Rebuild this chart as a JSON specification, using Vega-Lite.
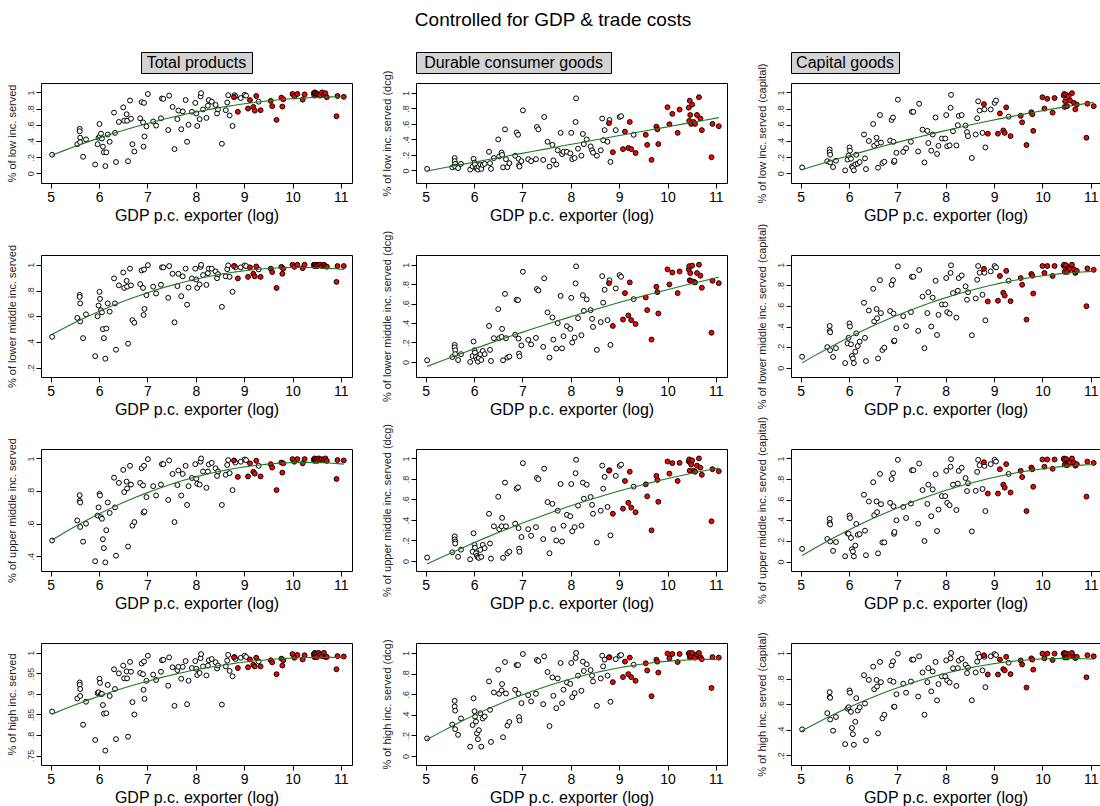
{
  "$schema": "https://vega.github.io/schema/vega-lite/v6.json",
  "background": "white",
  "padding": {"left": 5, "top": 10, "right": 0, "bottom": 0},
  "title": {"text": "Controlled for GDP & trade costs", "fontSize": 19, "fontWeight": "normal", "font": "Liberation Sans", "color": "black", "anchor": "middle", "frame": "bounds", "offset": 22},
  "datasets": {
    "trade": [
      {"x":5.03,"hi":0,"lt":0.23,"ld":0.02,"lc":0.074,"mt":0.44,"md":0.017,"mc":0.107,"ut":0.497,"ud":0.033,"uc":0.124,"ht":0.857,"hd":0.17,"hc":0.403},
      {"x":5.55,"hi":0,"lt":0.36,"ld":0.04,"lc":0.15,"mt":0.587,"md":0.05,"mc":0.2,"ut":0.62,"ud":0.085,"uc":0.22,"ht":0.889,"hd":0.305,"hc":0.53},
      {"x":5.6,"hi":0,"lt":0.55,"ld":0.16,"lc":0.295,"mt":0.766,"md":0.175,"mc":0.405,"ut":0.775,"ud":0.24,"uc":0.417,"ht":0.928,"hd":0.535,"hc":0.694},
      {"x":5.6,"hi":0,"lt":0.52,"ld":0.12,"lc":0.26,"mt":0.75,"md":0.15,"mc":0.357,"ut":0.74,"ud":0.21,"uc":0.375,"ht":0.922,"hd":0.48,"hc":0.655},
      {"x":5.61,"hi":0,"lt":0.44,"ld":0.085,"lc":0.23,"mt":0.7,"md":0.12,"mc":0.344,"ut":0.73,"ud":0.19,"uc":0.36,"ht":0.912,"hd":0.44,"hc":0.65},
      {"x":5.61,"hi":0,"lt":0.385,"ld":0.05,"lc":0.135,"mt":0.56,"md":0.08,"mc":0.17,"ut":0.58,"ud":0.17,"uc":0.195,"ht":0.895,"hd":0.26,"hc":0.48},
      {"x":5.67,"hi":0,"lt":0.205,"ld":0.03,"lc":0.078,"mt":0.43,"md":0.02,"mc":0.104,"ut":0.49,"ud":0.04,"uc":0.104,"ht":0.825,"hd":0.205,"hc":0.393},
      {"x":5.73,"hi":0,"lt":0.42,"ld":0.085,"lc":0.156,"mt":0.615,"md":0.08,"mc":0.19,"ut":0.6,"ud":0.11,"uc":0.19,"ht":0.881,"hd":0.364,"hc":0.5},
      {"x":5.92,"hi":0,"lt":0.11,"ld":0.01,"lc":0.037,"mt":0.29,"md":0,"mc":0.045,"ut":0.37,"ud":0.016,"uc":0.052,"ht":0.788,"hd":0.09,"hc":0.288},
      {"x":5.97,"hi":0,"lt":0.36,"ld":0.05,"lc":0.17,"mt":0.6,"md":0.06,"mc":0.237,"ut":0.65,"ud":0.09,"uc":0.275,"ht":0.902,"hd":0.3,"hc":0.565},
      {"x":5.99,"hi":0,"lt":0.44,"ld":0.15,"lc":0.22,"mt":0.683,"md":0.21,"mc":0.29,"ut":0.7,"ud":0.27,"uc":0.27,"ht":0.904,"hd":0.56,"hc":0.576},
      {"x":6.01,"hi":0,"lt":0.61,"ld":0.1,"lc":0.32,"mt":0.79,"md":0.12,"mc":0.43,"ut":0.783,"ud":0.157,"uc":0.446,"ht":0.937,"hd":0.435,"hc":0.707},
      {"x":6.02,"hi":0,"lt":0.46,"ld":0.077,"lc":0.28,"mt":0.735,"md":0.096,"mc":0.4,"ut":0.773,"ud":0.13,"uc":0.423,"ht":0.927,"hd":0.383,"hc":0.69},
      {"x":6.04,"hi":0,"lt":0.49,"ld":0.03,"lc":0.18,"mt":0.647,"md":0.05,"mc":0.227,"ut":0.64,"ud":0.075,"uc":0.23,"ht":0.9,"hd":0.334,"hc":0.54},
      {"x":6.06,"hi":0,"lt":0.43,"ld":0.034,"lc":0.086,"mt":0.63,"md":0.027,"mc":0.114,"ut":0.63,"ud":0.05,"uc":0.12,"ht":0.9,"hd":0.22,"hc":0.414},
      {"x":6.08,"hi":0,"lt":0.33,"ld":0.01,"lc":0.07,"mt":0.5,"md":0.003,"mc":0.09,"ut":0.505,"ud":0.036,"uc":0.098,"ht":0.873,"hd":0.162,"hc":0.366},
      {"x":6.1,"hi":0,"lt":0.26,"ld":0.05,"lc":0.037,"mt":0.43,"md":0.04,"mc":0.045,"ut":0.45,"ud":0.03,"uc":0.05,"ht":0.852,"hd":0.25,"hc":0.283},
      {"x":6.13,"hi":0,"lt":0.09,"ld":0.077,"lc":0.11,"mt":0.27,"md":0.08,"mc":0.156,"ut":0.363,"ud":0.108,"uc":0.156,"ht":0.762,"hd":0.415,"hc":0.463},
      {"x":6.15,"hi":0,"lt":0.26,"ld":0.02,"lc":0.23,"mt":0.505,"md":0.02,"mc":0.334,"ut":0.56,"ud":0.04,"uc":0.365,"ht":0.853,"hd":0.09,"hc":0.647},
      {"x":6.18,"hi":0,"lt":0.48,"ld":0.07,"lc":0.12,"mt":0.7,"md":0.113,"mc":0.21,"ut":0.73,"ud":0.157,"uc":0.26,"ht":0.922,"hd":0.364,"hc":0.55},
      {"x":6.22,"hi":0,"lt":0.39,"ld":0.085,"lc":0.14,"mt":0.636,"md":0.08,"mc":0.253,"ut":0.666,"ud":0.125,"uc":0.267,"ht":0.895,"hd":0.383,"hc":0.576},
      {"x":6.31,"hi":0,"lt":0.75,"ld":0.24,"lc":0.48,"mt":0.894,"md":0.37,"mc":0.63,"ut":0.882,"ud":0.46,"uc":0.648,"ht":0.96,"hd":0.724,"hc":0.827},
      {"x":6.33,"hi":0,"lt":0.5,"ld":0.094,"lc":0.185,"mt":0.7,"md":0.124,"mc":0.29,"ut":0.7,"ud":0.17,"uc":0.3,"ht":0.912,"hd":0.448,"hc":0.605},
      {"x":6.35,"hi":0,"lt":0.14,"ld":0.02,"lc":0.053,"mt":0.34,"md":0.01,"mc":0.065,"ut":0.404,"ud":0.023,"uc":0.062,"ht":0.79,"hd":0.136,"hc":0.317},
      {"x":6.41,"hi":0,"lt":0.635,"ld":0.16,"lc":0.4,"mt":0.84,"md":0.244,"mc":0.555,"ut":0.85,"ud":0.338,"uc":0.583,"ht":0.95,"hd":0.617,"hc":0.79},
      {"x":6.5,"hi":0,"lt":0.815,"ld":0.4,"lc":0.61,"mt":0.94,"md":0.543,"mc":0.766,"ut":0.93,"ud":0.626,"uc":0.77,"ht":0.969,"hd":0.838,"hc":0.893},
      {"x":6.52,"hi":0,"lt":0.65,"ld":0.18,"lc":0.34,"mt":0.82,"md":0.244,"mc":0.45,"ut":0.794,"ud":0.31,"uc":0.45,"ht":0.938,"hd":0.604,"hc":0.717},
      {"x":6.57,"hi":0,"lt":0.73,"ld":0.23,"lc":0.44,"mt":0.875,"md":0.258,"mc":0.57,"ut":0.858,"ud":0.338,"uc":0.583,"ht":0.955,"hd":0.636,"hc":0.79},
      {"x":6.58,"hi":0,"lt":0.65,"ld":0.2,"lc":0.37,"mt":0.83,"md":0.34,"mc":0.48,"ut":0.816,"ud":0.42,"uc":0.48,"ht":0.938,"hd":0.698,"hc":0.738},
      {"x":6.6,"hi":0,"lt":0.15,"ld":0.04,"lc":0.07,"mt":0.387,"md":0.017,"mc":0.09,"ut":0.46,"ud":0.03,"uc":0.08,"ht":0.796,"hd":0.182,"hc":0.372},
      {"x":6.64,"hi":0,"lt":0.9,"ld":0.53,"lc":0.72,"mt":0.97,"md":0.7,"mc":0.85,"ut":0.955,"ud":0.764,"uc":0.85,"ht":0.978,"hd":0.912,"hc":0.93},
      {"x":6.66,"hi":0,"lt":0.675,"ld":0.145,"lc":0.38,"mt":0.84,"md":0.244,"mc":0.53,"ut":0.84,"ud":0.338,"uc":0.557,"ht":0.954,"hd":0.607,"hc":0.772},
      {"x":6.69,"hi":0,"lt":0.36,"ld":0.043,"lc":0.127,"mt":0.57,"md":0.045,"mc":0.172,"ut":0.588,"ud":0.075,"uc":0.186,"ht":0.88,"hd":0.295,"hc":0.49},
      {"x":6.73,"hi":0,"lt":0.27,"ld":0.094,"lc":0.143,"mt":0.55,"md":0.055,"mc":0.195,"ut":0.61,"ud":0.09,"uc":0.186,"ht":0.85,"hd":0.33,"hc":0.518},
      {"x":6.85,"hi":0,"lt":0.68,"ld":0.19,"lc":0.405,"mt":0.85,"md":0.28,"mc":0.55,"ut":0.85,"ud":0.364,"uc":0.57,"ht":0.951,"hd":0.643,"hc":0.785},
      {"x":6.88,"hi":0,"lt":0.88,"ld":0.49,"lc":0.66,"mt":0.956,"md":0.64,"mc":0.805,"ut":0.94,"ud":0.705,"uc":0.8,"ht":0.974,"hd":0.883,"hc":0.903},
      {"x":6.91,"hi":0,"lt":0.63,"ld":0.46,"lc":0.69,"mt":0.82,"md":0.636,"mc":0.85,"ut":0.835,"ud":0.718,"uc":0.857,"ht":0.948,"hd":0.883,"hc":0.935},
      {"x":6.92,"hi":0,"lt":0.33,"ld":0.15,"lc":0.39,"mt":0.61,"md":0.24,"mc":0.526,"ut":0.668,"ud":0.32,"uc":0.537,"ht":0.91,"hd":0.604,"hc":0.775},
      {"x":6.93,"hi":0,"lt":0.87,"ld":0.068,"lc":0.14,"mt":0.963,"md":0.086,"mc":0.256,"ut":0.955,"ud":0.12,"uc":0.27,"ht":0.979,"hd":0.377,"hc":0.58},
      {"x":6.94,"hi":0,"lt":0.455,"ld":0.05,"lc":0.156,"mt":0.657,"md":0.058,"mc":0.263,"ut":0.675,"ud":0.09,"uc":0.287,"ht":0.888,"hd":0.344,"hc":0.58},
      {"x":6.98,"hi":0,"lt":0.58,"ld":0.12,"lc":0.254,"mt":0.764,"md":0.17,"mc":0.383,"ut":0.763,"ud":0.233,"uc":0.4,"ht":0.932,"hd":0.513,"hc":0.678},
      {"x":7.01,"hi":0,"lt":0.98,"ld":0.775,"lc":0.91,"mt":0.997,"md":0.928,"mc":0.984,"ut":0.996,"ud":0.954,"uc":0.987,"ht":0.993,"hd":0.99,"hc":0.995},
      {"x":7.12,"hi":0,"lt":0.64,"ld":0.145,"lc":0.266,"mt":0.83,"md":0.227,"mc":0.5,"ut":0.83,"ud":0.31,"uc":0.53,"ht":0.947,"hd":0.59,"hc":0.76},
      {"x":7.18,"hi":0,"lt":0.59,"ld":0.12,"lc":0.31,"mt":0.777,"md":0.18,"mc":0.403,"ut":0.773,"ud":0.246,"uc":0.423,"ht":0.934,"hd":0.53,"hc":0.69},
      {"x":7.28,"hi":0,"lt":0.68,"ld":0.145,"lc":0.39,"mt":0.845,"md":0.247,"mc":0.54,"ut":0.84,"ud":0.33,"uc":0.563,"ht":0.954,"hd":0.604,"hc":0.777},
      {"x":7.3,"hi":0,"lt":0.925,"ld":0.56,"lc":0.76,"mt":0.98,"md":0.75,"mc":0.883,"ut":0.965,"ud":0.81,"uc":0.886,"ht":0.982,"hd":0.932,"hc":0.948},
      {"x":7.33,"hi":0,"lt":0.92,"ld":0.53,"lc":0.76,"mt":0.98,"md":0.735,"mc":0.883,"ut":0.965,"ud":0.797,"uc":0.886,"ht":0.983,"hd":0.922,"hc":0.948},
      {"x":7.43,"hi":0,"lt":0.535,"ld":0.136,"lc":0.27,"mt":0.743,"md":0.155,"mc":0.357,"ut":0.746,"ud":0.213,"uc":0.368,"ht":0.92,"hd":0.503,"hc":0.66},
      {"x":7.45,"hi":0,"lt":0.96,"ld":0.69,"lc":0.86,"mt":0.99,"md":0.86,"mc":0.948,"ut":0.988,"ud":0.9,"uc":0.951,"ht":0.989,"hd":0.967,"hc":0.974},
      {"x":7.52,"hi":0,"lt":0.82,"ld":0.37,"lc":0.54,"mt":0.93,"md":0.51,"mc":0.69,"ut":0.905,"ud":0.574,"uc":0.694,"ht":0.965,"hd":0.815,"hc":0.848},
      {"x":7.56,"hi":0,"lt":0.3,"ld":0.05,"lc":0.135,"mt":0.553,"md":0.045,"mc":0.19,"ut":0.61,"ud":0.075,"uc":0.2,"ht":0.871,"hd":0.29,"hc":0.518},
      {"x":7.62,"hi":0,"lt":0.67,"ld":0.33,"lc":0.525,"mt":0.834,"md":0.457,"mc":0.53,"ut":0.837,"ud":0.557,"uc":0.56,"ht":0.958,"hd":0.763,"hc":0.772},
      {"x":7.64,"hi":0,"lt":0.775,"ld":0.13,"lc":0.375,"mt":0.93,"md":0.23,"mc":0.733,"ut":0.926,"ud":0.31,"uc":0.746,"ht":0.966,"hd":0.584,"hc":0.882},
      {"x":7.7,"hi":0,"lt":0.545,"ld":0.077,"lc":0.28,"mt":0.756,"md":0.137,"mc":0.4,"ut":0.773,"ud":0.2,"uc":0.44,"ht":0.937,"hd":0.464,"hc":0.7},
      {"x":7.73,"hi":0,"lt":0.765,"ld":0.26,"lc":0.48,"mt":0.91,"md":0.4,"mc":0.68,"ut":0.905,"ud":0.49,"uc":0.7,"ht":0.966,"hd":0.753,"hc":0.856},
      {"x":7.79,"hi":0,"lt":0.905,"ld":0.485,"lc":0.69,"mt":0.97,"md":0.68,"mc":0.844,"ut":0.955,"ud":0.75,"uc":0.847,"ht":0.98,"hd":0.903,"hc":0.93},
      {"x":7.82,"hi":0,"lt":0.39,"ld":0.21,"lc":0.24,"mt":0.69,"md":0.14,"mc":0.318,"ut":0.715,"ud":0.19,"uc":0.296,"ht":0.875,"hd":0.513,"hc":0.63},
      {"x":7.85,"hi":0,"lt":0.6,"ld":0.24,"lc":0.34,"mt":0.823,"md":0.265,"mc":0.513,"ut":0.83,"ud":0.344,"uc":0.505,"ht":0.932,"hd":0.643,"hc":0.757},
      {"x":7.92,"hi":0,"lt":0.76,"ld":0.24,"lc":0.43,"mt":0.894,"md":0.368,"mc":0.614,"ut":0.88,"ud":0.45,"uc":0.635,"ht":0.963,"hd":0.714,"hc":0.817},
      {"x":7.99,"hi":0,"lt":0.87,"ld":0.22,"lc":0.43,"mt":0.97,"md":0.34,"mc":0.614,"ut":0.965,"ud":0.436,"uc":0.635,"ht":0.98,"hd":0.7,"hc":0.817},
      {"x":8.01,"hi":0,"lt":0.74,"ld":0.485,"lc":0.72,"mt":0.886,"md":0.66,"mc":0.87,"ut":0.876,"ud":0.75,"uc":0.88,"ht":0.961,"hd":0.903,"hc":0.942},
      {"x":8.03,"hi":0,"lt":0.585,"ld":0.145,"lc":0.335,"mt":0.82,"md":0.2,"mc":0.54,"ut":0.845,"ud":0.29,"uc":0.57,"ht":0.946,"hd":0.571,"hc":0.785},
      {"x":8.08,"hi":0,"lt":0.67,"ld":0.16,"lc":0.345,"mt":0.847,"md":0.25,"mc":0.526,"ut":0.84,"ud":0.33,"uc":0.547,"ht":0.951,"hd":0.61,"hc":0.77},
      {"x":8.1,"hi":0,"lt":0.95,"ld":0.625,"lc":0.81,"mt":0.984,"md":0.808,"mc":0.92,"ut":0.98,"ud":0.856,"uc":0.92,"ht":0.987,"hd":0.951,"hc":0.958},
      {"x":8.11,"hi":0,"lt":0.99,"ld":0.93,"lc":0.97,"mt":1.0,"md":0.983,"mc":0.994,"ut":1.0,"ud":0.987,"uc":0.993,"ht":0.997,"hd":1.0,"hc":1.0},
      {"x":8.15,"hi":0,"lt":0.79,"ld":0.28,"lc":0.52,"mt":0.92,"md":0.45,"mc":0.724,"ut":0.92,"ud":0.54,"uc":0.746,"ht":0.967,"hd":0.78,"hc":0.88},
      {"x":8.22,"hi":0,"lt":0.685,"ld":0.19,"lc":0.345,"mt":0.844,"md":0.275,"mc":0.487,"ut":0.82,"ud":0.344,"uc":0.5,"ht":0.945,"hd":0.633,"hc":0.743},
      {"x":8.25,"hi":0,"lt":0.835,"ld":0.47,"lc":0.595,"mt":0.935,"md":0.687,"mc":0.747,"ut":0.92,"ud":0.764,"uc":0.756,"ht":0.969,"hd":0.916,"hc":0.882},
      {"x":8.27,"hi":0,"lt":0.905,"ld":0.34,"lc":0.71,"mt":0.97,"md":0.526,"mc":0.87,"ut":0.963,"ud":0.607,"uc":0.88,"ht":0.982,"hd":0.825,"hc":0.94},
      {"x":8.33,"hi":0,"lt":0.885,"ld":0.4,"lc":0.72,"mt":0.97,"md":0.643,"mc":0.896,"ut":0.973,"ud":0.744,"uc":0.91,"ht":0.985,"hd":0.89,"hc":0.955},
      {"x":8.41,"hi":0,"lt":0.845,"ld":0.31,"lc":0.59,"mt":0.948,"md":0.533,"mc":0.79,"ut":0.94,"ud":0.623,"uc":0.81,"ht":0.977,"hd":0.834,"hc":0.908},
      {"x":8.44,"hi":0,"lt":0.74,"ld":0.26,"lc":0.51,"mt":0.896,"md":0.443,"mc":0.66,"ut":0.893,"ud":0.547,"uc":0.684,"ht":0.962,"hd":0.78,"hc":0.843},
      {"x":8.46,"hi":0,"lt":0.79,"ld":0.23,"lc":0.46,"mt":0.927,"md":0.36,"mc":0.733,"ut":0.92,"ud":0.46,"uc":0.76,"ht":0.969,"hd":0.724,"hc":0.885},
      {"x":8.54,"hi":0,"lt":0.365,"ld":0.19,"lc":0.19,"mt":0.673,"md":0.124,"mc":0.315,"ut":0.715,"ud":0.18,"uc":0.293,"ht":0.874,"hd":0.487,"hc":0.63},
      {"x":8.62,"hi":0,"lt":0.78,"ld":0.26,"lc":0.48,"mt":0.91,"md":0.41,"mc":0.672,"ut":0.9,"ud":0.49,"uc":0.687,"ht":0.967,"hd":0.753,"hc":0.848},
      {"x":8.65,"hi":0,"lt":0.875,"ld":0.67,"lc":0.68,"mt":0.966,"md":0.883,"mc":0.854,"ut":0.96,"ud":0.93,"uc":0.87,"ht":0.981,"hd":0.974,"hc":0.932},
      {"x":8.67,"hi":0,"lt":0.965,"ld":0.39,"lc":0.89,"mt":0.995,"md":0.61,"mc":0.987,"ut":0.99,"ud":0.705,"uc":0.987,"ht":0.995,"hd":0.87,"hc":0.995},
      {"x":8.7,"hi":0,"lt":0.715,"ld":0.52,"lc":0.775,"mt":0.906,"md":0.742,"mc":0.922,"ut":0.91,"ud":0.82,"uc":0.935,"ht":0.956,"hd":0.935,"hc":0.968},
      {"x":8.76,"hi":0,"lt":0.585,"ld":0.37,"lc":0.5,"mt":0.79,"md":0.43,"mc":0.708,"ut":0.806,"ud":0.527,"uc":0.704,"ht":0.943,"hd":0.78,"hc":0.864},
      {"x":8.8,"hi":0,"lt":0.965,"ld":0.65,"lc":0.79,"mt":0.99,"md":0.84,"mc":0.922,"ut":0.983,"ud":0.885,"uc":0.928,"ht":0.99,"hd":0.958,"hc":0.97},
      {"x":8.82,"hi":0,"lt":0.95,"ld":0.11,"lc":0.32,"mt":0.98,"md":0.175,"mc":0.46,"ut":0.975,"ud":0.25,"uc":0.49,"ht":0.985,"hd":0.526,"hc":0.733},
      {"x":8.93,"hi":0,"lt":0.93,"ld":0.52,"lc":0.79,"mt":0.98,"md":0.756,"mc":0.935,"ut":0.98,"ud":0.83,"uc":0.945,"ht":0.988,"hd":0.94,"hc":0.974},
      {"x":9.01,"hi":0,"lt":0.97,"ld":0.69,"lc":0.87,"mt":0.995,"md":0.893,"mc":0.987,"ut":0.994,"ud":0.928,"uc":0.987,"ht":0.993,"hd":0.974,"hc":0.992},
      {"x":9.04,"hi":0,"lt":0.96,"ld":0.7,"lc":0.9,"mt":0.99,"md":0.876,"mc":0.974,"ut":0.99,"ud":0.94,"uc":0.97,"ht":0.99,"hd":0.98,"hc":0.984},
      {"x":9.3,"hi":0,"lt":0.885,"ld":0.46,"lc":0.7,"mt":0.964,"md":0.646,"mc":0.844,"ut":0.955,"ud":0.725,"uc":0.85,"ht":0.979,"hd":0.886,"hc":0.924},
      {"x":8.79,"hi":1,"lt":0.94,"ld":0.61,"lc":0.855,"mt":0.99,"md":0.81,"mc":0.96,"ut":0.988,"ud":0.88,"uc":0.964,"ht":0.989,"hd":0.958,"hc":0.982},
      {"x":8.87,"hi":1,"lt":0.76,"ld":0.235,"lc":0.49,"mt":0.894,"md":0.37,"mc":0.643,"ut":0.887,"ud":0.46,"uc":0.66,"ht":0.963,"hd":0.717,"hc":0.832},
      {"x":9.08,"hi":1,"lt":0.8,"ld":0.275,"lc":0.49,"mt":0.906,"md":0.436,"mc":0.65,"ut":0.89,"ud":0.51,"uc":0.66,"ht":0.965,"hd":0.766,"hc":0.832},
      {"x":9.12,"hi":1,"lt":0.905,"ld":0.5,"lc":0.74,"mt":0.98,"md":0.708,"mc":0.89,"ut":0.97,"ud":0.78,"uc":0.896,"ht":0.984,"hd":0.916,"hc":0.948},
      {"x":9.19,"hi":1,"lt":0.82,"ld":0.29,"lc":0.53,"mt":0.93,"md":0.478,"mc":0.727,"ut":0.918,"ud":0.567,"uc":0.746,"ht":0.971,"hd":0.795,"hc":0.874},
      {"x":9.22,"hi":1,"lt":0.775,"ld":0.625,"lc":0.5,"mt":0.91,"md":0.818,"mc":0.7,"ut":0.907,"ud":0.87,"uc":0.717,"ht":0.967,"hd":0.955,"hc":0.864},
      {"x":9.25,"hi":1,"lt":0.955,"ld":0.275,"lc":0.815,"mt":0.987,"md":0.43,"mc":0.94,"ut":0.986,"ud":0.52,"uc":0.945,"ht":0.988,"hd":0.766,"hc":0.97},
      {"x":9.34,"hi":1,"lt":0.78,"ld":0.225,"lc":0.46,"mt":0.906,"md":0.39,"mc":0.646,"ut":0.89,"ud":0.475,"uc":0.67,"ht":0.967,"hd":0.73,"hc":0.835},
      {"x":9.55,"hi":1,"lt":0.895,"ld":0.46,"lc":0.71,"mt":0.97,"md":0.663,"mc":0.87,"ut":0.965,"ud":0.747,"uc":0.88,"ht":0.982,"hd":0.9,"hc":0.942},
      {"x":9.58,"hi":1,"lt":0.83,"ld":0.33,"lc":0.63,"mt":0.943,"md":0.533,"mc":0.805,"ut":0.944,"ud":0.63,"uc":0.82,"ht":0.977,"hd":0.83,"hc":0.91},
      {"x":9.67,"hi":1,"lt":0.66,"ld":0.136,"lc":0.35,"mt":0.82,"md":0.23,"mc":0.467,"ut":0.806,"ud":0.298,"uc":0.49,"ht":0.948,"hd":0.58,"hc":0.73},
      {"x":9.77,"hi":1,"lt":0.935,"ld":0.565,"lc":0.755,"mt":0.984,"md":0.773,"mc":0.91,"ut":0.975,"ud":0.83,"uc":0.912,"ht":0.986,"hd":0.935,"hc":0.958},
      {"x":9.79,"hi":1,"lt":0.825,"ld":0.53,"lc":0.73,"mt":0.93,"md":0.718,"mc":0.893,"ut":0.913,"ud":0.79,"uc":0.896,"ht":0.969,"hd":0.916,"hc":0.948},
      {"x":9.81,"hi":1,"lt":0.915,"ld":0.34,"lc":0.525,"mt":0.97,"md":0.498,"mc":0.72,"ut":0.97,"ud":0.577,"uc":0.726,"ht":0.982,"hd":0.81,"hc":0.87},
      {"x":10.0,"hi":1,"lt":0.98,"ld":0.815,"lc":0.94,"mt":1.0,"md":0.952,"mc":0.987,"ut":0.996,"ud":0.97,"uc":0.99,"ht":0.997,"hd":0.994,"hc":0.995},
      {"x":10.04,"hi":1,"lt":0.95,"ld":0.595,"lc":0.8,"mt":0.984,"md":0.797,"mc":0.92,"ut":0.98,"ud":0.852,"uc":0.92,"ht":0.988,"hd":0.948,"hc":0.958},
      {"x":10.1,"hi":1,"lt":0.98,"ld":0.73,"lc":0.92,"mt":1.0,"md":0.92,"mc":0.987,"ut":0.996,"ud":0.954,"uc":0.99,"ht":0.995,"hd":0.99,"hc":0.995},
      {"x":10.21,"hi":1,"lt":0.91,"ld":0.485,"lc":0.75,"mt":0.974,"md":0.708,"mc":0.89,"ut":0.97,"ud":0.78,"uc":0.9,"ht":0.984,"hd":0.912,"hc":0.945},
      {"x":10.25,"hi":1,"lt":0.975,"ld":0.785,"lc":0.93,"mt":1.0,"md":0.93,"mc":0.987,"ut":0.996,"ud":0.957,"uc":0.99,"ht":0.994,"hd":0.99,"hc":0.995},
      {"x":10.44,"hi":1,"lt":0.99,"ld":0.81,"lc":0.96,"mt":1.0,"md":0.952,"mc":0.99,"ut":0.995,"ud":0.97,"uc":0.995,"ht":0.997,"hd":0.995,"hc":0.995},
      {"x":10.45,"hi":1,"lt":0.96,"ld":0.64,"lc":0.98,"mt":0.99,"md":0.986,"mc":1.0,"ut":0.985,"ud":0.99,"uc":1.0,"ht":0.99,"hd":1.0,"hc":1.0},
      {"x":10.46,"hi":1,"lt":1.0,"ld":0.9,"lc":0.82,"mt":1.0,"md":0.84,"mc":0.93,"ut":1.0,"ud":0.88,"uc":0.94,"ht":1.0,"hd":0.96,"hc":0.965},
      {"x":10.47,"hi":1,"lt":0.98,"ld":0.715,"lc":0.89,"mt":0.99,"md":0.914,"mc":0.974,"ut":0.99,"ud":0.96,"uc":0.98,"ht":0.99,"hd":0.98,"hc":0.985},
      {"x":10.49,"hi":1,"lt":0.99,"ld":0.6,"lc":0.97,"mt":1.0,"md":0.83,"mc":0.994,"ut":0.995,"ud":0.94,"uc":0.995,"ht":0.998,"hd":0.965,"hc":0.995},
      {"x":10.51,"hi":1,"lt":0.98,"ld":0.85,"lc":0.83,"mt":0.99,"md":0.99,"mc":0.93,"ut":0.985,"ud":0.98,"uc":0.935,"ht":0.99,"hd":1.0,"hc":0.965},
      {"x":10.54,"hi":1,"lt":0.97,"ld":0.625,"lc":0.95,"mt":1.0,"md":0.825,"mc":0.97,"ut":1.0,"ud":0.88,"uc":0.975,"ht":1.0,"hd":0.96,"hc":0.99},
      {"x":10.57,"hi":1,"lt":0.96,"ld":0.6,"lc":0.9,"mt":1.0,"md":0.818,"mc":0.958,"ut":0.99,"ud":0.87,"uc":0.96,"ht":0.995,"hd":0.955,"hc":0.975},
      {"x":10.61,"hi":1,"lt":1.0,"ld":0.715,"lc":0.99,"mt":0.99,"md":0.914,"mc":1.0,"ut":0.995,"ud":0.93,"uc":1.0,"ht":0.992,"hd":0.985,"hc":1.0},
      {"x":10.65,"hi":1,"lt":0.97,"ld":0.945,"lc":0.87,"mt":1.0,"md":1.0,"mc":0.955,"ut":0.99,"ud":1.0,"uc":0.96,"ht":1.0,"hd":1.0,"hc":0.97},
      {"x":10.68,"hi":1,"lt":0.99,"ld":0.67,"lc":0.79,"mt":0.99,"md":0.887,"mc":0.92,"ut":1.0,"ud":0.91,"uc":0.93,"ht":0.99,"hd":0.96,"hc":0.96},
      {"x":10.71,"hi":1,"lt":0.94,"ld":0.52,"lc":0.85,"mt":0.985,"md":0.763,"mc":0.94,"ut":0.985,"ud":0.84,"uc":0.945,"ht":0.99,"hd":0.94,"hc":0.97},
      {"x":10.91,"hi":1,"lt":0.705,"ld":0.17,"lc":0.44,"mt":0.867,"md":0.3,"mc":0.597,"ut":0.874,"ud":0.387,"uc":0.63,"ht":0.96,"hd":0.66,"hc":0.81},
      {"x":10.93,"hi":1,"lt":0.955,"ld":0.6,"lc":0.86,"mt":0.99,"md":0.835,"mc":0.964,"ut":0.99,"ud":0.895,"uc":0.97,"ht":0.992,"hd":0.96,"hc":0.982},
      {"x":11.06,"hi":1,"lt":0.945,"ld":0.57,"lc":0.83,"mt":0.99,"md":0.81,"mc":0.95,"ut":0.988,"ud":0.875,"uc":0.957,"ht":0.991,"hd":0.955,"hc":0.974}
    ]
  },
  "columns": 3,
  "spacing": {"row": 10, "column": 64},
  "bounds": "flush",
  "align": "each",
  "center": true,
  "concat": [
    {"width": 111, "height": 21, "data": {"values": [{"t": "Total products"}]}, "mark": {"type": "text", "fontSize": 16, "font": "Liberation Sans", "color": "black"}, "encoding": {"text": {"field": "t"}}, "view": {"fill": "#d3d3d3", "stroke": "black", "strokeWidth": 1}},
    {"width": 195, "height": 21, "data": {"values": [{"t": "Durable consumer goods"}]}, "mark": {"type": "text", "fontSize": 16, "font": "Liberation Sans", "color": "black"}, "encoding": {"text": {"field": "t"}}, "view": {"fill": "#d3d3d3", "stroke": "black", "strokeWidth": 1}},
    {"width": 108, "height": 21, "data": {"values": [{"t": "Capital goods"}]}, "mark": {"type": "text", "fontSize": 16, "font": "Liberation Sans", "color": "black"}, "encoding": {"text": {"field": "t"}}, "view": {"fill": "#d3d3d3", "stroke": "black", "strokeWidth": 1}},

    {"width": 311, "height": 100, "data": {"name": "trade"},
     "encoding": {"x": {"field": "x", "type": "quantitative", "title": "GDP p.c. exporter (log)", "scale": {"domain": [4.8, 11.23], "nice": false, "zero": false}, "axis": {"values": [5, 6, 7, 8, 9, 10, 11]}},
                  "y": {"field": "lt", "type": "quantitative", "title": "% of low inc. served", "scale": {"domain": [-0.119, 1.116], "nice": false, "zero": false}, "axis": {"values": [0, 0.2, 0.4, 0.6, 0.8, 1]}}},
     "layer": [
       {"mark": {"type": "circle", "size": 24, "opacity": 1, "stroke": "black", "strokeWidth": 1}, "encoding": {"fill": {"field": "hi", "type": "nominal", "scale": {"domain": [0, 1], "range": ["white", "#ff0000"]}, "legend": null}}},
       {"transform": [{"regression": "lt", "on": "x", "method": "poly", "order": 2}], "mark": {"type": "line", "color": "#1d7a1d", "strokeWidth": 1.1}, "encoding": {}}
     ]},
    {"width": 311, "height": 100, "data": {"name": "trade"},
     "encoding": {"x": {"field": "x", "type": "quantitative", "title": "GDP p.c. exporter (log)", "scale": {"domain": [4.8, 11.23], "nice": false, "zero": false}, "axis": {"values": [5, 6, 7, 8, 9, 10, 11]}},
                  "y": {"field": "ld", "type": "quantitative", "title": "% of low inc. served (dcg)", "scale": {"domain": [-0.162, 1.128], "nice": false, "zero": false}, "axis": {"values": [0, 0.2, 0.4, 0.6, 0.8, 1]}}},
     "layer": [
       {"mark": {"type": "circle", "size": 24, "opacity": 1, "stroke": "black", "strokeWidth": 1}, "encoding": {"fill": {"field": "hi", "type": "nominal", "scale": {"domain": [0, 1], "range": ["white", "#ff0000"]}, "legend": null}}},
       {"transform": [{"regression": "ld", "on": "x", "method": "poly", "order": 2}], "mark": {"type": "line", "color": "#1d7a1d", "strokeWidth": 1.1}, "encoding": {}}
     ]},
    {"width": 309, "height": 100, "data": {"name": "trade"},
     "encoding": {"x": {"field": "x", "type": "quantitative", "title": "GDP p.c. exporter (log)", "scale": {"domain": [4.8, 11.19], "nice": false, "zero": false}, "axis": {"values": [5, 6, 7, 8, 9, 10, 11]}},
                  "y": {"field": "lc", "type": "quantitative", "title": "% of low inc. served (capital)", "scale": {"domain": [-0.119, 1.116], "nice": false, "zero": false}, "axis": {"values": [0, 0.2, 0.4, 0.6, 0.8, 1]}}},
     "layer": [
       {"mark": {"type": "circle", "size": 24, "opacity": 1, "stroke": "black", "strokeWidth": 1}, "encoding": {"fill": {"field": "hi", "type": "nominal", "scale": {"domain": [0, 1], "range": ["white", "#ff0000"]}, "legend": null}}},
       {"transform": [{"regression": "lc", "on": "x", "method": "poly", "order": 2}], "mark": {"type": "line", "color": "#1d7a1d", "strokeWidth": 1.1}, "encoding": {}}
     ]},

    {"width": 10, "height": 52, "data": {"values": []}, "mark": "point", "view": {"stroke": null}},
    {"width": 10, "height": 52, "data": {"values": []}, "mark": "point", "view": {"stroke": null}},
    {"width": 10, "height": 52, "data": {"values": []}, "mark": "point", "view": {"stroke": null}},

    {"width": 311, "height": 122, "data": {"name": "trade"},
     "encoding": {"x": {"field": "x", "type": "quantitative", "title": "GDP p.c. exporter (log)", "scale": {"domain": [4.8, 11.23], "nice": false, "zero": false}, "axis": {"values": [5, 6, 7, 8, 9, 10, 11]}},
                  "y": {"field": "mt", "type": "quantitative", "title": "% of lower middle inc. served", "scale": {"domain": [0.128, 1.076], "nice": false, "zero": false}, "axis": {"values": [0.2, 0.4, 0.6, 0.8, 1]}}},
     "layer": [
       {"mark": {"type": "circle", "size": 24, "opacity": 1, "stroke": "black", "strokeWidth": 1}, "encoding": {"fill": {"field": "hi", "type": "nominal", "scale": {"domain": [0, 1], "range": ["white", "#ff0000"]}, "legend": null}}},
       {"transform": [{"regression": "mt", "on": "x", "method": "poly", "order": 2}], "mark": {"type": "line", "color": "#1d7a1d", "strokeWidth": 1.1}, "encoding": {}}
     ]},
    {"width": 311, "height": 122, "data": {"name": "trade"},
     "encoding": {"x": {"field": "x", "type": "quantitative", "title": "GDP p.c. exporter (log)", "scale": {"domain": [4.8, 11.23], "nice": false, "zero": false}, "axis": {"values": [5, 6, 7, 8, 9, 10, 11]}},
                  "y": {"field": "md", "type": "quantitative", "title": "% of lower middle inc. served (dcg)", "scale": {"domain": [-0.155, 1.1], "nice": false, "zero": false}, "axis": {"values": [0, 0.2, 0.4, 0.6, 0.8, 1]}}},
     "layer": [
       {"mark": {"type": "circle", "size": 24, "opacity": 1, "stroke": "black", "strokeWidth": 1}, "encoding": {"fill": {"field": "hi", "type": "nominal", "scale": {"domain": [0, 1], "range": ["white", "#ff0000"]}, "legend": null}}},
       {"transform": [{"regression": "md", "on": "x", "method": "poly", "order": 2}], "mark": {"type": "line", "color": "#1d7a1d", "strokeWidth": 1.1}, "encoding": {}}
     ]},
    {"width": 309, "height": 122, "data": {"name": "trade"},
     "encoding": {"x": {"field": "x", "type": "quantitative", "title": "GDP p.c. exporter (log)", "scale": {"domain": [4.8, 11.19], "nice": false, "zero": false}, "axis": {"values": [5, 6, 7, 8, 9, 10, 11]}},
                  "y": {"field": "mc", "type": "quantitative", "title": "% of lower middle inc. served (capital)", "scale": {"domain": [-0.09, 1.094], "nice": false, "zero": false}, "axis": {"values": [0, 0.2, 0.4, 0.6, 0.8, 1]}}},
     "layer": [
       {"mark": {"type": "circle", "size": 24, "opacity": 1, "stroke": "black", "strokeWidth": 1}, "encoding": {"fill": {"field": "hi", "type": "nominal", "scale": {"domain": [0, 1], "range": ["white", "#ff0000"]}, "legend": null}}},
       {"transform": [{"regression": "mc", "on": "x", "method": "poly", "order": 2}], "mark": {"type": "line", "color": "#1d7a1d", "strokeWidth": 1.1}, "encoding": {}}
     ]},

    {"width": 10, "height": 52, "data": {"values": []}, "mark": "point", "view": {"stroke": null}},
    {"width": 10, "height": 52, "data": {"values": []}, "mark": "point", "view": {"stroke": null}},
    {"width": 10, "height": 52, "data": {"values": []}, "mark": "point", "view": {"stroke": null}},

    {"width": 311, "height": 122, "data": {"name": "trade"},
     "encoding": {"x": {"field": "x", "type": "quantitative", "title": "GDP p.c. exporter (log)", "scale": {"domain": [4.8, 11.23], "nice": false, "zero": false}, "axis": {"values": [5, 6, 7, 8, 9, 10, 11]}},
                  "y": {"field": "ut", "type": "quantitative", "title": "% of upper middle inc. served", "scale": {"domain": [0.31, 1.058], "nice": false, "zero": false}, "axis": {"values": [0.4, 0.6, 0.8, 1]}}},
     "layer": [
       {"mark": {"type": "circle", "size": 24, "opacity": 1, "stroke": "black", "strokeWidth": 1}, "encoding": {"fill": {"field": "hi", "type": "nominal", "scale": {"domain": [0, 1], "range": ["white", "#ff0000"]}, "legend": null}}},
       {"transform": [{"regression": "ut", "on": "x", "method": "poly", "order": 2}], "mark": {"type": "line", "color": "#1d7a1d", "strokeWidth": 1.1}, "encoding": {}}
     ]},
    {"width": 311, "height": 122, "data": {"name": "trade"},
     "encoding": {"x": {"field": "x", "type": "quantitative", "title": "GDP p.c. exporter (log)", "scale": {"domain": [4.8, 11.23], "nice": false, "zero": false}, "axis": {"values": [5, 6, 7, 8, 9, 10, 11]}},
                  "y": {"field": "ud", "type": "quantitative", "title": "% of upper middle inc. served (dcg)", "scale": {"domain": [-0.098, 1.092], "nice": false, "zero": false}, "axis": {"values": [0, 0.2, 0.4, 0.6, 0.8, 1]}}},
     "layer": [
       {"mark": {"type": "circle", "size": 24, "opacity": 1, "stroke": "black", "strokeWidth": 1}, "encoding": {"fill": {"field": "hi", "type": "nominal", "scale": {"domain": [0, 1], "range": ["white", "#ff0000"]}, "legend": null}}},
       {"transform": [{"regression": "ud", "on": "x", "method": "poly", "order": 2}], "mark": {"type": "line", "color": "#1d7a1d", "strokeWidth": 1.1}, "encoding": {}}
     ]},
    {"width": 309, "height": 122, "data": {"name": "trade"},
     "encoding": {"x": {"field": "x", "type": "quantitative", "title": "GDP p.c. exporter (log)", "scale": {"domain": [4.8, 11.19], "nice": false, "zero": false}, "axis": {"values": [5, 6, 7, 8, 9, 10, 11]}},
                  "y": {"field": "uc", "type": "quantitative", "title": "% of upper middle inc. served (capital)", "scale": {"domain": [-0.091, 1.092], "nice": false, "zero": false}, "axis": {"values": [0, 0.2, 0.4, 0.6, 0.8, 1]}}},
     "layer": [
       {"mark": {"type": "circle", "size": 24, "opacity": 1, "stroke": "black", "strokeWidth": 1}, "encoding": {"fill": {"field": "hi", "type": "nominal", "scale": {"domain": [0, 1], "range": ["white", "#ff0000"]}, "legend": null}}},
       {"transform": [{"regression": "uc", "on": "x", "method": "poly", "order": 2}], "mark": {"type": "line", "color": "#1d7a1d", "strokeWidth": 1.1}, "encoding": {}}
     ]},

    {"width": 10, "height": 52, "data": {"values": []}, "mark": "point", "view": {"stroke": null}},
    {"width": 10, "height": 52, "data": {"values": []}, "mark": "point", "view": {"stroke": null}},
    {"width": 10, "height": 52, "data": {"values": []}, "mark": "point", "view": {"stroke": null}},

    {"width": 311, "height": 122, "data": {"name": "trade"},
     "encoding": {"x": {"field": "x", "type": "quantitative", "title": "GDP p.c. exporter (log)", "scale": {"domain": [4.8, 11.23], "nice": false, "zero": false}, "axis": {"values": [5, 6, 7, 8, 9, 10, 11]}},
                  "y": {"field": "ht", "type": "quantitative", "title": "% of high inc. served", "scale": {"domain": [0.727, 1.024], "nice": false, "zero": false}, "axis": {"values": [0.75, 0.8, 0.85, 0.9, 0.95, 1]}}},
     "layer": [
       {"mark": {"type": "circle", "size": 24, "opacity": 1, "stroke": "black", "strokeWidth": 1}, "encoding": {"fill": {"field": "hi", "type": "nominal", "scale": {"domain": [0, 1], "range": ["white", "#ff0000"]}, "legend": null}}},
       {"transform": [{"regression": "ht", "on": "x", "method": "poly", "order": 2}], "mark": {"type": "line", "color": "#1d7a1d", "strokeWidth": 1.1}, "encoding": {}}
     ]},
    {"width": 311, "height": 122, "data": {"name": "trade"},
     "encoding": {"x": {"field": "x", "type": "quantitative", "title": "GDP p.c. exporter (log)", "scale": {"domain": [4.8, 11.23], "nice": false, "zero": false}, "axis": {"values": [5, 6, 7, 8, 9, 10, 11]}},
                  "y": {"field": "hd", "type": "quantitative", "title": "% of high inc. served (dcg)", "scale": {"domain": [-0.088, 1.097], "nice": false, "zero": false}, "axis": {"values": [0, 0.2, 0.4, 0.6, 0.8, 1]}}},
     "layer": [
       {"mark": {"type": "circle", "size": 24, "opacity": 1, "stroke": "black", "strokeWidth": 1}, "encoding": {"fill": {"field": "hi", "type": "nominal", "scale": {"domain": [0, 1], "range": ["white", "#ff0000"]}, "legend": null}}},
       {"transform": [{"regression": "hd", "on": "x", "method": "poly", "order": 2}], "mark": {"type": "line", "color": "#1d7a1d", "strokeWidth": 1.1}, "encoding": {}}
     ]},
    {"width": 309, "height": 122, "data": {"name": "trade"},
     "encoding": {"x": {"field": "x", "type": "quantitative", "title": "GDP p.c. exporter (log)", "scale": {"domain": [4.8, 11.19], "nice": false, "zero": false}, "axis": {"values": [5, 6, 7, 8, 9, 10, 11]}},
                  "y": {"field": "hc", "type": "quantitative", "title": "% of high inc. served (capital)", "scale": {"domain": [0.125, 1.078], "nice": false, "zero": false}, "axis": {"values": [0.2, 0.4, 0.6, 0.8, 1]}}},
     "layer": [
       {"mark": {"type": "circle", "size": 24, "opacity": 1, "stroke": "black", "strokeWidth": 1}, "encoding": {"fill": {"field": "hi", "type": "nominal", "scale": {"domain": [0, 1], "range": ["white", "#ff0000"]}, "legend": null}}},
       {"transform": [{"regression": "hc", "on": "x", "method": "poly", "order": 2}], "mark": {"type": "line", "color": "#1d7a1d", "strokeWidth": 1.1}, "encoding": {}}
     ]}
  ],
  "config": {
    "font": "Liberation Sans",
    "view": {"stroke": "black", "strokeWidth": 1},
    "axis": {"grid": false, "domain": false, "tickColor": "black", "tickSize": 5, "labelColor": "black", "titleColor": "black", "titleFontWeight": "normal", "labelFont": "Liberation Sans", "titleFont": "Liberation Sans", "labelFlush": false},
    "axisX": {"labelFontSize": 14, "titleFontSize": 16, "labelPadding": 2, "titlePadding": 3},
    "axisY": {"labelAngle": 270, "labelAlign": "center", "labelBaseline": "bottom", "labelFontSize": 9, "labelPadding": 1, "titleFontSize": 11, "titlePadding": 9, "labelColor": "#333333", "titleColor": "#222222", "labelOverlap": false, "labelExpr": "replace(format(datum.value, '.2~f'), '0.', '.')"}
  }
}
